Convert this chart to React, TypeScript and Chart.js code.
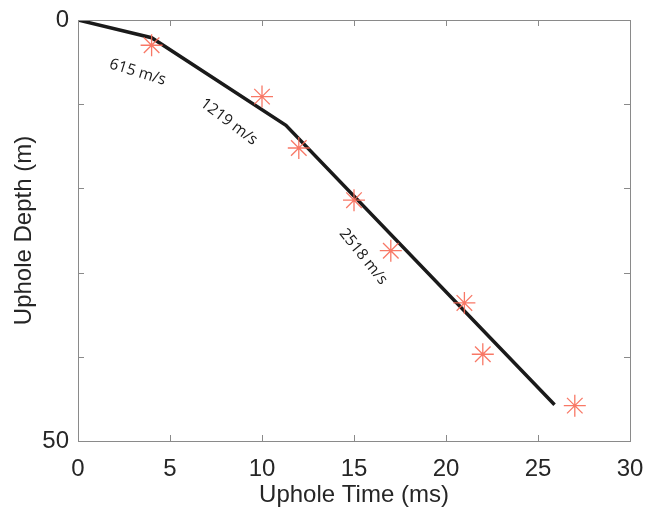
import React, { useEffect, useRef } from "react";
import { Chart, registerables } from "chart.js";

Chart.register(...registerables);

// Observed first-break picks (uphole survey)
const obsTime = [4, 10, 12, 15, 17, 21, 22, 27];
const obsDepth = [3.0, 9.1, 15.2, 21.4, 27.4, 33.6, 39.7, 45.8];

// Fitted layered velocity model (piecewise line)
const fitTime = [0, 4.0, 11.3, 25.9];
const fitDepth = [0, 2.1, 12.5, 45.7];

// Velocity annotations
const labelText = ["615 m/s", "1219 m/s", "2518 m/s"];
const labelTime = [3.24, 8.2, 15.5];
const labelDepth = [6.2, 12.1, 28.1];
const labelAngle = [17, 37, 51];

// Axis ticks
const xTicks = [0, 5, 10, 15, 20, 25, 30];
const yTicks = [0, 10, 20, 30, 40, 50];
const yTickLabels = ["0", "", "", "", "", "50"];

const TEXT = "#262626";
const AXIS = "#8a8a8a";

const boxPlugin = {
  id: "boxTicks",
  afterDraw(chart: any) {
    const { ctx, chartArea, scales } = chart;
    const { left, right, top, bottom } = chartArea;
    ctx.save();
    ctx.strokeStyle = AXIS;
    ctx.lineWidth = 1;
    ctx.strokeRect(left + 0.5, top + 0.5, right - left, bottom - top);
    const len = 6;
    ctx.beginPath();
    for (const v of xTicks) {
      const x = Math.round(scales.x.getPixelForValue(v)) + 0.5;
      ctx.moveTo(x, bottom);
      ctx.lineTo(x, bottom - len);
      ctx.moveTo(x, top);
      ctx.lineTo(x, top + len);
    }
    for (const v of yTicks) {
      const y = Math.round(scales.y.getPixelForValue(v)) + 0.5;
      ctx.moveTo(left, y);
      ctx.lineTo(left + len, y);
      ctx.moveTo(right, y);
      ctx.lineTo(right - len, y);
    }
    ctx.stroke();
    ctx.restore();
  },
};

const labelPlugin = {
  id: "velLabels",
  afterDatasetsDraw(chart: any) {
    const { ctx, scales } = chart;
    ctx.save();
    ctx.fillStyle = "#1a1a1a";
    ctx.font = "15.5px 'Open Sans'";
    ctx.textAlign = "center";
    ctx.textBaseline = "middle";
    labelText.forEach((t, i) => {
      const x = scales.x.getPixelForValue(labelTime[i]);
      const y = scales.y.getPixelForValue(labelDepth[i]);
      ctx.save();
      ctx.translate(x, y);
      ctx.rotate((labelAngle[i] * Math.PI) / 180);
      ctx.fillText(t, 0, 0);
      ctx.restore();
    });
    ctx.restore();
  },
};

export default function App() {
  const ref = useRef<HTMLCanvasElement | null>(null);

  useEffect(() => {
    if (!ref.current) return;
    const chart = new Chart(ref.current, {
      type: "scatter",
      data: {
        datasets: [
          {
            label: "Picks",
            data: obsTime.map((t, i) => ({ x: t, y: obsDepth[i] })),
            pointStyle: "star",
            pointRadius: 11,
            pointBorderColor: "rgba(247,105,85,0.9)",
            pointBorderWidth: 1.3,
            pointBackgroundColor: "rgba(247,105,85,0.9)",
            showLine: false,
            order: 0,
          },
          {
            label: "Fit",
            data: fitTime.map((t, i) => ({ x: t, y: fitDepth[i] })),
            showLine: true,
            borderColor: "#1a1a1a",
            borderWidth: 3.5,
            pointRadius: 0,
            fill: false,
            order: 1,
          },
        ],
      },
      options: {
        animation: false,
        responsive: true,
        maintainAspectRatio: false,
        layout: { padding: { left: 0, top: 20, right: 16, bottom: 0 } },
        plugins: { legend: { display: false }, tooltip: { enabled: false } },
        scales: {
          x: {
            type: "linear",
            min: 0,
            max: 30,
            afterBuildTicks: (s: any) => {
              s.ticks = xTicks.map((v) => ({ value: v }));
            },
            afterFit: (s: any) => {
              s.height = 72;
              s.paddingLeft = 0;
              s.paddingRight = 0;
            },
            grid: { display: false, drawTicks: false, tickLength: 0 },
            border: { display: false },
            ticks: {
              padding: 14,
              color: TEXT,
              font: { family: "'Liberation Sans', Arial", size: 24 },
              maxRotation: 0,
            },
            title: {
              display: true,
              text: "Uphole Time (ms)",
              color: TEXT,
              font: { family: "'Liberation Sans', Arial", size: 24, lineHeight: 1.2 },
              padding: { top: 0, bottom: 3 },
            },
          },
          y: {
            type: "linear",
            min: 0,
            max: 50,
            reverse: true,
            afterBuildTicks: (s: any) => {
              s.ticks = yTicks.map((v) => ({ value: v }));
            },
            afterFit: (s: any) => {
              s.width = 78;
              s.paddingTop = 0;
              s.paddingBottom = 0;
            },
            grid: { display: false, drawTicks: false, tickLength: 0 },
            border: { display: false },
            ticks: {
              padding: 9,
              color: TEXT,
              font: { family: "'Liberation Sans', Arial", size: 24 },
              callback: (_v: any, i: number) => yTickLabels[i],
            },
            title: {
              display: true,
              text: "Uphole Depth (m)",
              color: TEXT,
              font: { family: "'Liberation Sans', Arial", size: 24, lineHeight: 1.2 },
              padding: { top: 10, bottom: 0 },
            },
          },
        },
      },
      plugins: [boxPlugin, labelPlugin],
    });
    return () => chart.destroy();
  }, []);

  return (
    <div style={{ position: "fixed", left: 0, top: 0, width: 646, height: 513, background: "#fff" }}>
      <canvas ref={ref} />
    </div>
  );
}
